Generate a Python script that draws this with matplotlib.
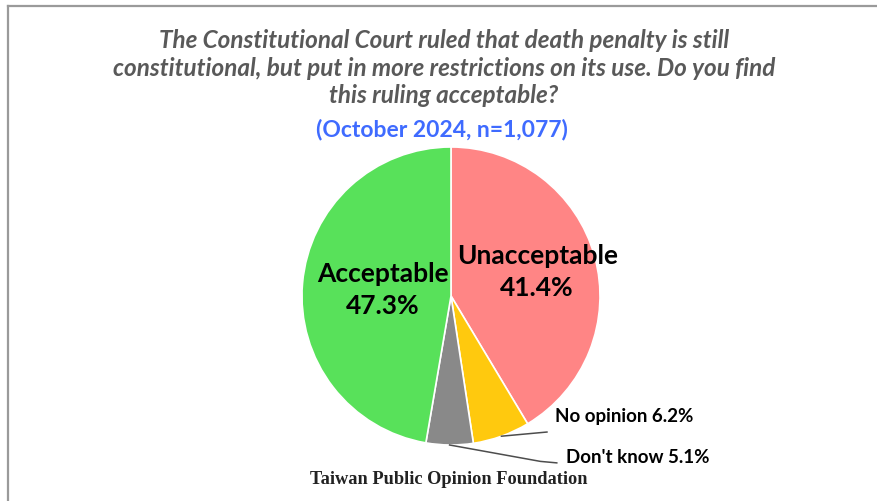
import numpy as np
import matplotlib.pyplot as plt
from matplotlib.lines import Line2D

# survey result, Taiwan Public Opinion Foundation, Oct 2024
labels = ['Unacceptable', 'No opinion', "Don't know", 'Acceptable']
shares = [41.4, 6.2, 5.1, 47.3]
colors = ['#FF8585', '#FFC90E', '#898989', '#58E15A']

title = ('The Constitutional Court ruled that death penalty is still\n'
         'constitutional, but put in more restrictions on its use. Do you find\n'
         'this ruling acceptable?')
subtitle = '(October 2024, n=1,077)'
source = 'Taiwan Public Opinion Foundation'

W, H = 877, 501
fig = plt.figure(figsize=(W / 100, H / 100), dpi=100)
fig.patch.set_facecolor('white')

# thin gray frame on top and left
fig.add_artist(Line2D([7.5 / W, 1], [1 - 5.5 / H, 1 - 5.5 / H], color='#9a9a9a', lw=1.6))
fig.add_artist(Line2D([7.5 / W, 7.5 / W], [0, 1 - 5.5 / H], color='#9a9a9a', lw=1.6))

fig.text(444 / W, 1 - 68 / H, title, ha='center', va='center', fontsize=17.5,
         fontweight='bold', style='italic', color='#595959', family='Lato',
         linespacing=1.25)
fig.text(442 / W, 1 - 130 / H, subtitle, ha='center', va='center', fontsize=16.5,
         fontweight='bold', color='#3F6BFF', family='Lato')
fig.text(449 / W, 1 - 480 / H, source, ha='center', va='center', fontsize=13.2,
         fontweight='bold', color='#222222', family='Liberation Serif')

cx, cy, r = 451, 296, 149
ax = fig.add_axes([(cx - r) / W, (H - cy - r) / H, 2 * r / W, 2 * r / H])
ax.pie(shares, colors=colors, startangle=90, counterclock=False, radius=1,
       wedgeprops=dict(edgecolor='white', linewidth=1.2))
ax.set_xlim(-1, 1)
ax.set_ylim(-1, 1)
ax.set_aspect('equal')
ax.axis('off')

# mid angle of each wedge (degrees)
ends = 90 - np.cumsum(shares) * 3.6
starts = ends + np.array(shares) * 3.6
mids = np.radians((starts + ends) / 2)

# big labels inside the two main wedges
for i, dist in [(0, 0.60), (3, 0.46)]:
    ax.text(dist * np.cos(mids[i]), dist * np.sin(mids[i]),
            f'{labels[i]}\n{shares[i]}%', ha='center', va='center',
            fontsize=19, fontweight='bold', color='black', family='Lato',
            linespacing=1.4)

# small wedges get leader lines
lead = {1: [(0.644, -0.913)], 2: [(0.60, -1.11), (0.71, -1.12)]}
text_pos = {1: (0.698, -0.812), 2: (0.772, -1.087)}
for i in (1, 2):
    pts = [(np.cos(mids[i]), np.sin(mids[i]))] + lead[i]
    xs, ys = zip(*pts)
    ax.plot(xs, ys, color='#4d4d4d', lw=1.1, clip_on=False)
    ax.text(*text_pos[i], f'{labels[i]} {shares[i]}%', ha='left', va='center',
            fontsize=13.5, fontweight='bold', color='black', family='Lato',
            clip_on=False)

fig.savefig('out.png', dpi=100)
